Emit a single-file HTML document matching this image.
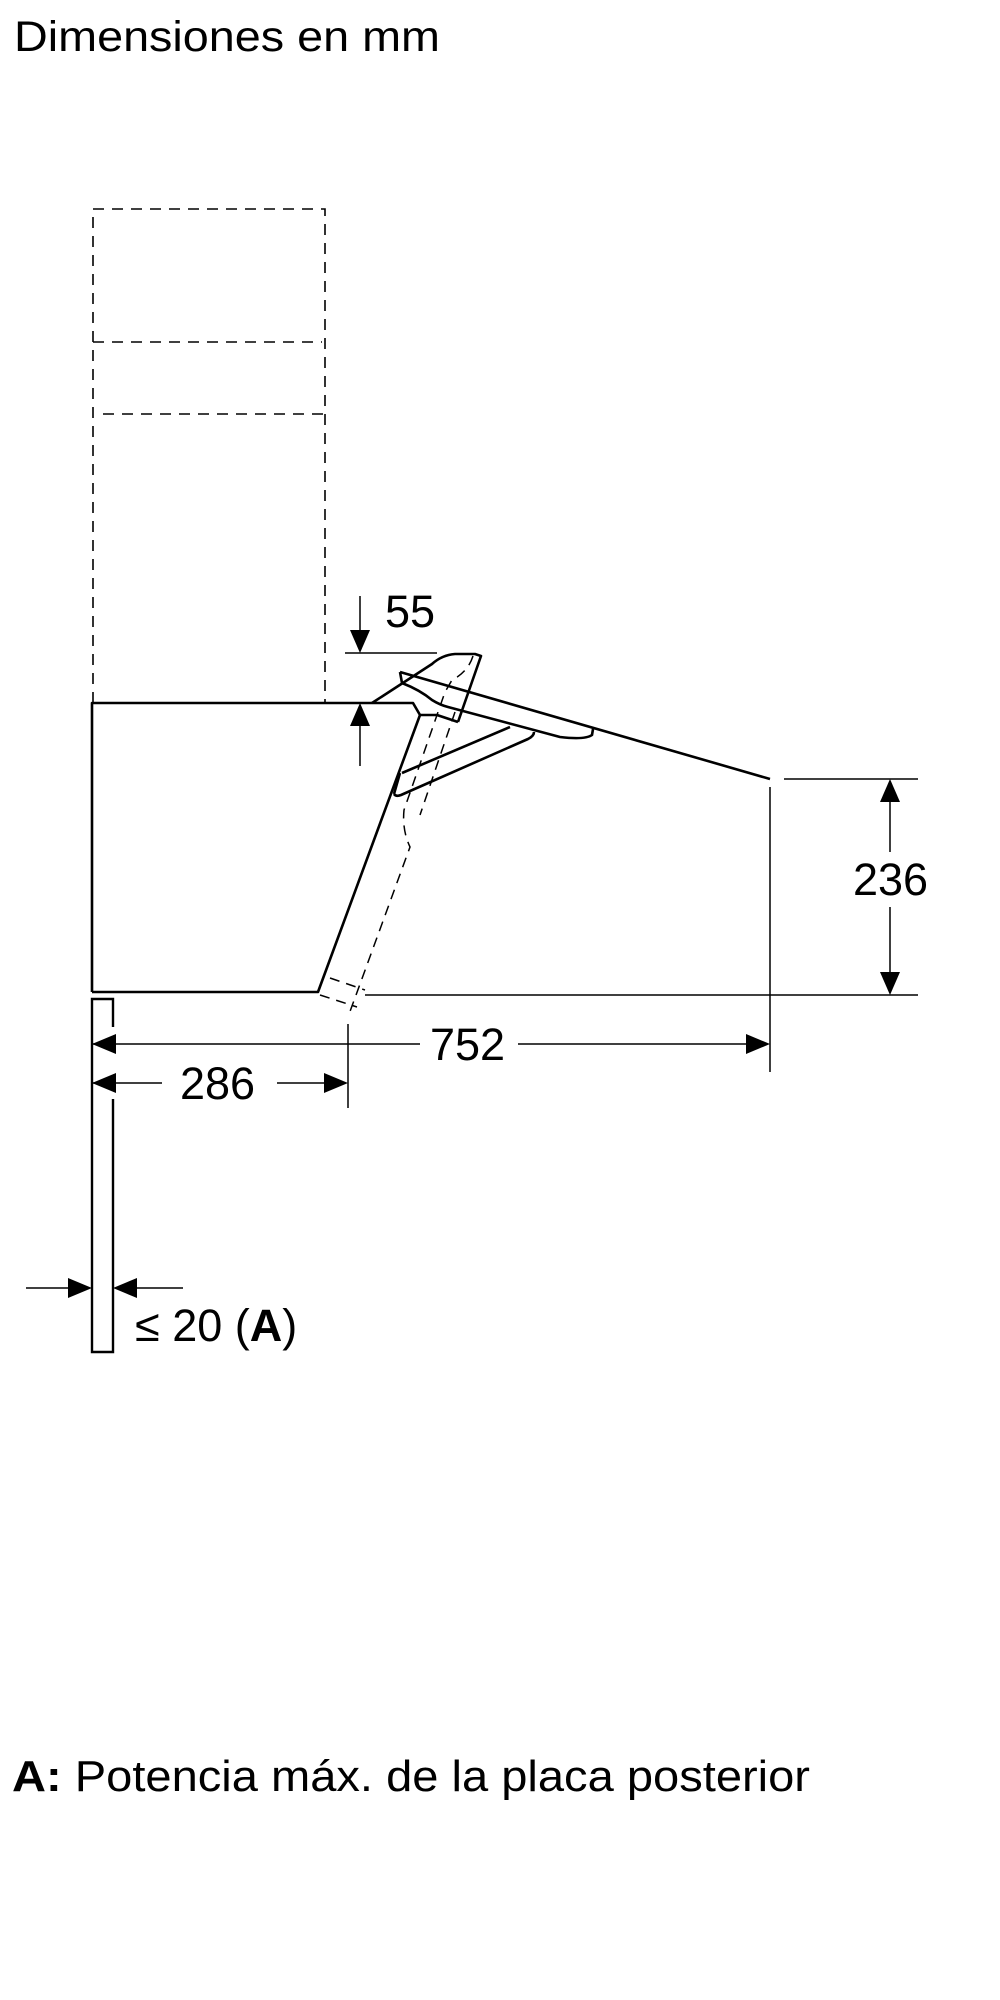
<!DOCTYPE html>
<html><head><meta charset="utf-8"><style>
html,body{margin:0;padding:0;background:#fff;}
svg{display:block;}
text{font-family:"Liberation Sans",Arial,sans-serif;fill:#000;}
</style></head><body>
<svg width="1000" height="2000" viewBox="0 0 1000 2000" xmlns="http://www.w3.org/2000/svg">
<text x="14" y="51" font-size="43" textLength="426" lengthAdjust="spacingAndGlyphs">Dimensiones en mm</text>

<g fill="none" stroke="#000" stroke-width="1.6" stroke-dasharray="11,8">
<path d="M93 703 V209 H325 V703"/>
<path d="M93 342 H322"/>
<path d="M103 414 H327"/>
</g>

<!-- main box -->
<g fill="none" stroke="#000" stroke-width="2.6" stroke-linejoin="round">
<path d="M92 992 V703 H413 L420 715 H437 L458 722"/>
<path d="M420 715 L318 992 H92"/>
<path d="M372 703 L432 664 Q442 655 455 654 H475 L481 656 L458 722"/>
<path d="M400 672 L770 779"/>
<path d="M400 672 L402 683 Q420 690 432 700 Q440 705 448 707 L560 737 Q585 740 592 735 L593 729"/>
<path d="M402 773 L510 727"/>
<path d="M394 794 Q396 797 401 795 L528 739 Q534 736 534 732"/>
<path d="M400 773 L394 794"/>
</g>
<g fill="none" stroke="#000" stroke-width="1.5" stroke-dasharray="10,7">
<path d="M473 656 Q468 672 452 680 L445 692 L404 810 Q402 830 410 847 L348 1017"/>
<path d="M455 712 L420 815"/>
<path d="M330 978 L365 990"/>
<path d="M320 995 L357 1007"/>
</g>

<!-- back wall strip -->
<g fill="none" stroke="#000" stroke-width="2.4">
<path d="M113 1027 V999 H92 V1352 H113 V1099"/>
</g>

<!-- dimension lines -->
<g stroke="#000" stroke-width="1.5" fill="none">
<path d="M345 653 H437"/>
<path d="M360 596 V640"/>
<path d="M360 716 V766"/>
<path d="M365 995 H918"/>
<path d="M784 779 H918"/>
<path d="M770 787 V1072"/>
<path d="M348 1024 V1108"/>
<path d="M92 1044 H420 M518 1044 H760"/>
<path d="M92 1083 H162 M277 1083 H340"/>
<path d="M890 790 V852 M890 907 V985"/>
<path d="M26 1288 H82 M123 1288 H183"/>
</g>
<g fill="#000">
<path d="M360 653 L350 630 H370 Z"/>
<path d="M360 703 L350 726 H370 Z"/>
<path d="M890 779 L880 802 H900 Z"/>
<path d="M890 995 L880 972 H900 Z"/>
<path d="M92 1044 L116 1034 V1054 Z"/>
<path d="M770 1044 L746 1034 V1054 Z"/>
<path d="M92 1083 L116 1073 V1093 Z"/>
<path d="M348 1083 L324 1073 V1093 Z"/>
<path d="M92 1288 L68 1278 V1298 Z"/>
<path d="M113 1288 L137 1278 V1298 Z"/>
</g>

<text x="385" y="627" font-size="45">55</text>
<text x="853" y="895" font-size="45">236</text>
<text x="430" y="1060" font-size="45">752</text>
<text x="180" y="1099" font-size="45">286</text>
<text x="135" y="1341" font-size="45">≤ 20 (<tspan font-weight="bold">A</tspan>)</text>

<text x="12" y="1791" font-size="44" textLength="798" lengthAdjust="spacingAndGlyphs"><tspan font-weight="bold">A:</tspan> Potencia máx. de la placa posterior</text>
</svg>
</body></html>
